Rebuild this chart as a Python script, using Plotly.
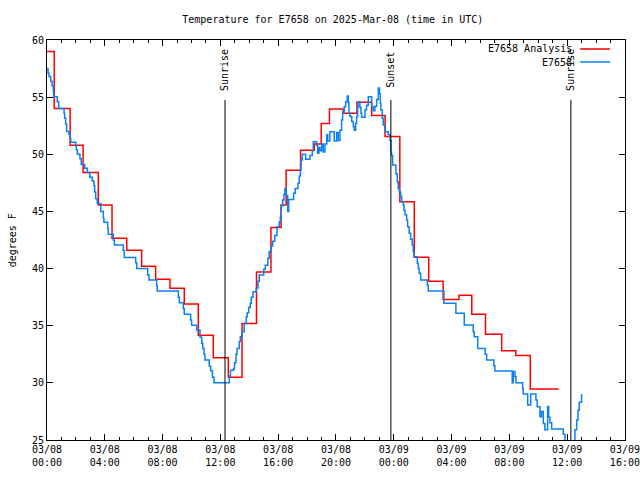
import pandas as pd
import plotly.graph_objects as go

BASE = pd.Timestamp("2025-03-08 00:00")

# Analysis (red) : hours since 2025-03-08 00:00 UTC where each level starts, and its value (deg F)
analysis_hours = [0.0, 0.5, 1.6, 2.5, 3.55, 4.5, 5.52, 6.55, 7.52, 8.51, 9.5, 10.47, 11.51, 12.55,
                  13.5, 14.5, 15.5, 16.2, 16.55, 17.55, 18.5, 18.98, 19.55, 20.5, 21.45, 22.47,
                  23.4, 24.42, 25.42, 26.42, 27.42, 28.52, 29.4, 30.35, 31.47, 32.45, 33.45, 35.41]
analysis_temp = [59.0, 54.0, 50.8, 48.4, 45.56, 42.65, 41.6, 40.2, 39.06, 38.27, 36.9, 34.16, 32.2, 30.5,
                 35.2, 39.7, 43.6, 45.56, 48.6, 50.35, 50.9, 52.7, 53.96, 53.6, 54.55, 53.4,
                 51.55, 45.85, 41.0, 38.9, 37.3, 37.66, 36.0, 34.25, 32.8, 32.4, 29.46, 29.46]

# Station observations (blue)
obs_hours = [0.0, 0.07, 0.14, 0.26, 0.35, 0.44, 0.47, 0.71, 0.81, 1.18, 1.22, 1.29, 1.36, 1.52, 1.59,
             1.64, 1.99, 2.03, 2.10, 2.28, 2.37, 2.61, 2.79, 2.96, 3.13, 3.25, 3.30, 3.37, 3.48, 3.72,
             3.90, 3.94, 4.20, 4.24, 4.59, 4.66, 5.28, 5.35, 6.14, 6.21, 6.97, 7.06, 7.59, 7.63, 9.09,
             9.16, 9.43, 9.50, 9.94, 10.01, 10.36, 10.59, 10.71, 10.78, 10.87, 10.93, 11.23, 11.33,
             11.45, 11.56, 12.62, 12.70, 12.91, 12.98, 13.08, 13.15, 13.31, 13.38, 13.49, 13.65,
             13.79, 13.86, 13.96, 14.07, 14.14, 14.26, 14.48, 14.60, 14.69, 15.00, 15.11, 15.29,
             15.38, 15.52, 15.62, 15.76, 15.92, 16.08, 16.15, 16.21, 16.31, 16.40, 16.47, 16.56,
             16.66, 16.73, 17.07, 17.18, 17.37, 17.46, 17.53, 17.58, 17.67, 17.90, 18.20, 18.36,
             18.43, 18.66, 18.73, 18.82, 18.89, 19.01, 19.12, 19.24, 19.36, 19.43, 19.58, 19.88,
             20.05, 20.16, 20.28, 20.39, 20.46, 20.57, 20.67, 20.78, 20.85, 20.90, 20.97, 21.09,
             21.20, 21.27, 21.36, 21.43, 21.50, 21.54, 21.66, 21.73, 21.78, 22.01, 22.12, 22.24,
             22.47, 22.58, 22.70, 22.82, 22.93, 23.01, 23.07, 23.11, 23.20, 23.27, 23.39, 23.62,
             23.74, 23.81, 23.85, 23.92, 24.15, 24.24, 24.31, 24.38, 24.48, 24.55, 24.66, 24.71,
             24.78, 24.89, 24.96, 25.07, 25.17, 25.28, 25.35, 25.40, 25.63, 25.70, 25.76, 25.86,
             26.32, 26.39, 27.47, 28.30, 28.88, 29.50, 29.57, 29.81, 30.33, 30.43, 30.93, 31.00,
             32.20, 32.27, 32.39, 32.46, 32.92, 32.96, 33.27, 33.48, 33.84, 33.93, 34.12, 34.23,
             34.35, 34.46, 34.65, 34.72, 34.81, 34.93, 35.73, 35.85, 35.99, 36.47, 36.54, 36.66,
             36.75, 36.84, 37.00]
obs_temp = [57.5, 57.1, 56.8, 56.4, 56.0, 55.5, 55.04, 54.6, 54.0, 53.6, 53.15, 52.65, 52.0, 51.75, 51.4,
            51.05, 50.75, 50.4, 50.0, 49.6, 49.1, 48.77, 48.4, 48.0, 47.66, 47.25, 46.7, 46.1, 45.7, 45.0,
            44.4, 44.05, 43.5, 43.0, 42.5, 42.06, 41.6, 40.97, 40.5, 40.0, 39.44, 39.0, 38.48, 38.04, 37.5,
            37.0, 36.5, 36.0, 35.5, 35.05, 34.63, 34.0, 33.46, 33.0, 32.5, 32.0, 31.48, 31.07,
            30.5, 30.0, 30.6, 31.1, 31.25, 31.75, 32.5, 33.0, 33.6, 34.04, 34.48, 35.2,
            35.79, 36.14, 36.6, 36.96, 37.5, 37.98, 38.3, 38.9, 39.44, 39.94, 40.3, 40.9,
            41.5, 41.97, 42.4, 42.9, 43.67, 44.1, 44.5, 45.5, 46.0, 46.5, 47.0, 46.4,
            45.0, 46.05, 46.6, 47.0, 47.46, 48.1, 48.6, 49.5, 50.0, 49.56, 49.9, 50.3,
            51.1, 50.8, 50.1, 50.6, 50.3, 50.9, 50.2, 50.9, 51.7, 51.16, 51.98, 51.16,
            51.9, 51.2, 52.1, 53.0, 53.73, 54.16, 54.6, 55.1, 54.5, 53.6, 53.3, 52.86,
            52.4, 52.1, 52.7, 53.3, 54.16, 54.6, 54.1, 53.6, 53.25, 53.9, 54.3, 55.04,
            54.16, 53.8, 54.2, 54.8, 55.8, 55.3, 54.46, 53.87, 53.15, 52.56, 51.98, 51.7,
            51.2, 50.2, 49.9, 49.06, 48.3, 47.6, 47.0, 46.7, 46.3, 45.85, 45.56, 45.1,
            44.7, 44.25, 43.67, 43.1, 42.56, 42.06, 41.5, 41.04, 40.46, 40.0, 39.6, 39.0,
            38.56, 38.04, 36.96, 36.1, 35.06, 34.48, 34.04, 33.0, 32.5, 32.0, 31.5, 31.04,
            30.0, 31.0, 30.54, 30.0, 29.5, 29.03, 28.06, 29.03, 28.5, 27.9, 27.03, 27.5,
            26.45, 25.9, 27.94, 27.0, 26.5, 25.96, 25.5, 24.5, 24.0, 24.6, 25.9, 26.75,
            27.6, 28.3, 29.03]

sun_hours = [12.32, 23.8, 36.26]
sun_labels = ["Sunrise", "Sunset", "Sunrise"]

tick_hours = [0, 4, 8, 12, 16, 20, 24, 28, 32, 36, 40]
tick_labels = ["03/08<br>00:00", "03/08<br>04:00", "03/08<br>08:00", "03/08<br>12:00",
               "03/08<br>16:00", "03/08<br>20:00", "03/09<br>00:00", "03/09<br>04:00",
               "03/09<br>08:00", "03/09<br>12:00", "03/09<br>16:00"]
y_ticks = [25, 30, 35, 40, 45, 50, 55, 60]


def to_time(hours):
    return [BASE + pd.Timedelta(hours=h) for h in hours]


FONT = "DejaVu Sans Mono"
RED = "#ff0000"
BLUE = "#0a80f5"

fig = go.Figure()
fig.add_trace(go.Scatter(x=to_time(analysis_hours), y=analysis_temp, mode="lines",
                         line=dict(color=RED, width=1.5, shape="hv"), name="E7658 Analysis"))
fig.add_trace(go.Scatter(x=to_time(obs_hours), y=obs_temp, mode="lines",
                         line=dict(color=BLUE, width=1.5, shape="hv"), name="E7658"))

for h, lab in zip(sun_hours, sun_labels):
    t = BASE + pd.Timedelta(hours=h)
    fig.add_shape(type="line", xref="x", yref="paper", x0=t, x1=t, y0=0, y1=0.85,
                  line=dict(color="black", width=1))
    fig.add_annotation(x=t, xref="x", yref="paper", y=0.925, text=lab, textangle=-90,
                       showarrow=False, xanchor="center", yanchor="middle",
                       font=dict(family=FONT, size=10, color="black"))

# legend (gnuplot style: text then line sample)
for yy, name, col in [(0.9775, "E7658 Analysis", RED), (0.945, "E7658", BLUE)]:
    fig.add_annotation(x=0.912, y=yy, xref="paper", yref="paper", text=name, showarrow=False,
                       xanchor="right", yanchor="middle", font=dict(family=FONT, size=10, color="black"))
    fig.add_shape(type="line", xref="paper", yref="paper", x0=0.922, x1=0.974, y0=yy, y1=yy,
                  line=dict(color=col, width=1.5))

fig.add_annotation(x=-0.06, y=0.5, xref="paper", yref="paper", text="degrees F", textangle=-90,
                   showarrow=False, xanchor="center", yanchor="middle",
                   font=dict(family=FONT, size=10, color="black"))

fig.update_layout(
    width=640, height=480,
    margin=dict(l=47, r=15, t=40, b=40, autoexpand=False),
    paper_bgcolor="white", plot_bgcolor="white",
    showlegend=False,
    font=dict(family=FONT, size=10, color="black"),
    title=dict(text="Temperature for E7658 on 2025-Mar-08 (time in UTC)", x=0.52, xanchor="center",
               y=1 - 19 / 480, yanchor="middle", font=dict(family=FONT, size=10, color="black")),
)
fig.update_xaxes(
    range=[BASE, BASE + pd.Timedelta(hours=40, seconds=20)],
    tickvals=to_time(tick_hours), ticktext=tick_labels,
    ticks="inside", ticklen=6, tickcolor="black", mirror="ticks", automargin=False,
    showline=True, linecolor="black", linewidth=1, showgrid=False, zeroline=False,
    minor=dict(ticks="inside", ticklen=3, tickcolor="black", dtick=3600000, showgrid=False),
    tickfont=dict(family=FONT, size=10),
)
fig.update_yaxes(
    range=[25, 60], tickvals=y_ticks, automargin=False,
    ticks="inside", ticklen=6, tickcolor="black", mirror="ticks",
    showline=True, linecolor="black", linewidth=1, showgrid=False, zeroline=False,
    tickfont=dict(family=FONT, size=10),
)

fig.write_html("out.html", config={"displayModeBar": False},
               post_script="document.body.style.margin='0';document.body.style.overflow='hidden';")
